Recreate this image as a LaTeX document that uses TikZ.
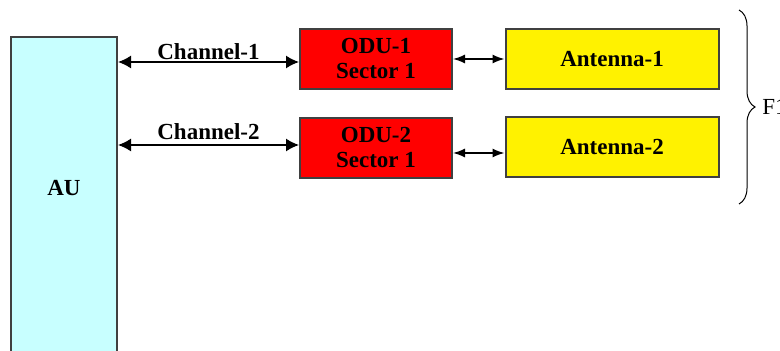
\documentclass[tikz,border=0pt]{standalone}
\usepackage{fontspec}
\setmainfont{Liberation Serif}
\usetikzlibrary{arrows.meta,decorations.pathreplacing}
\definecolor{aucyan}{HTML}{C8FFFF}
\definecolor{boxedge}{HTML}{404040}

\begin{document}
\begin{tikzpicture}[x=0.5pt,y=-0.5pt,
		boxfont/.style={font=\fontsize{11.5}{12.5}\selectfont\bfseries},
		chan/.style={draw=black,line width=0.75pt,{Latex[length=6.5pt,width=6.5pt]}-{Latex[length=6.5pt,width=6.5pt]}},
		link/.style={draw=black,line width=0.75pt,{Latex[length=6pt,width=4.5pt]}-{Latex[length=6pt,width=4.5pt]}}]
			\clip (0,0) rectangle (780,351);
			\begin{scope}[every node/.style={rectangle,draw=boxedge,line width=1pt,boxfont,align=center,inner sep=0pt}]
				\node [fill=aucyan,minimum width=53pt,minimum height=164pt] (AU) at (64,201) {};
				\node [fill=red,minimum width=76pt,minimum height=30pt] (ODU1) at (376,59) {ODU-1\\Sector 1};
				\node [fill=red,minimum width=76pt,minimum height=30pt] (ODU2) at (376,148) {ODU-2\\Sector 1};
				\node [fill=yellow,minimum width=106.5pt,minimum height=30pt] (Ant1) at (612,59) {Antenna-1};
				\node [fill=yellow,minimum width=106.5pt,minimum height=30pt] (Ant2) at (612,147.5) {Antenna-2};
			\end{scope}
			\node [boxfont] (AUtext) at (64,188) {AU};
			
			\coordinate (C1) at ([yshift=-1.5pt]ODU1.west);
			\coordinate (C2) at ([yshift=1.5pt]ODU2.west);
			\coordinate (L2) at ([yshift=-2.5pt]ODU2.east);
			\draw [chan] (AU.east |- C1) -- node [above=0.5pt,boxfont,inner sep=0.5pt] {Channel-1} (C1);
			\draw [chan] (AU.east |- C2) -- node [above=2pt,boxfont,inner sep=0.5pt] {Channel-2} (C2);
			\draw [link] (ODU1.east) -- (Ant1.west);
			\draw [link] (L2) -- (Ant2.west |- L2);
			
			% brace over both antennas
			\coordinate (Btop) at (739,10);
			\coordinate (Bbot) at (739,204);
			\draw [decorate,decoration={brace,amplitude=8pt},line width=0.5pt] (Btop) -- (Bbot);
			\node [anchor=west,font=\fontsize{11.5}{12.5}\selectfont,inner sep=0pt] (F1) at (762,107) {F1};
		\end{tikzpicture}
\end{document}
